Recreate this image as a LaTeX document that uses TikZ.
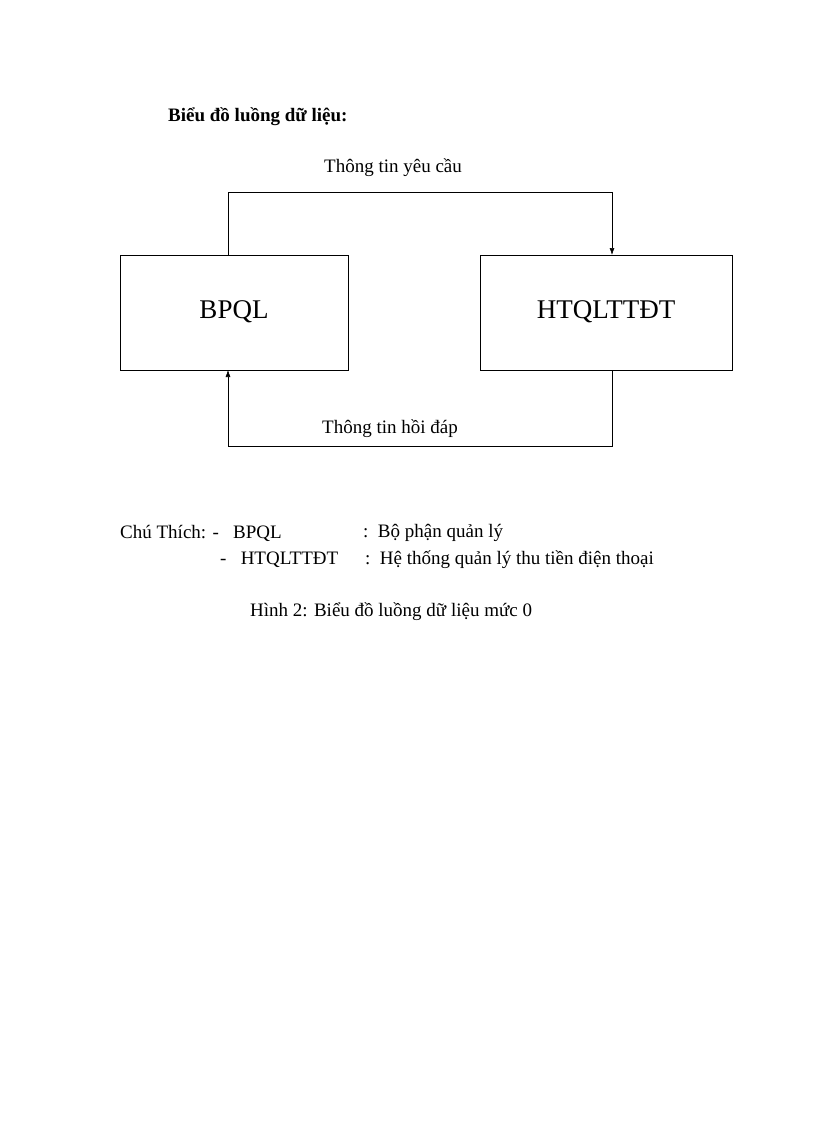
\documentclass[tikz,border=0pt]{standalone}
\usepackage{fontspec}
\setmainfont{Liberation Serif}
\usetikzlibrary{arrows.meta}
\begin{document}
\begin{tikzpicture}[x=1pt,y=-1pt,
  box/.style={draw,minimum width=0pt,inner sep=0pt},
  txt/.style={font=\fontsize{19}{22}\selectfont,inner sep=0pt},
  flow/.style={-{Latex[length=7pt,width=5pt]},line width=0.6pt}]
\useasboundingbox (0,0) rectangle (816,1123);
\draw[line width=0.6pt] (120,255) rectangle (348,370);
\draw[line width=0.6pt] (480,255) rectangle (732,370);
\node[font=\fontsize{27}{30}\selectfont] (a) at (234,312) {BPQL};
\node[font=\fontsize{27}{30}\selectfont] (b) at (606,312) {HTQLTTĐT};
\coordinate (a1) at (228,255); \coordinate (b1) at (612,255);
\coordinate (b2) at (612,370); \coordinate (a2) at (228,370);
\draw[flow] (a1) -- (228,192) -- (612,192) -- (b1);
\draw[flow] (b2) -- (612,446) -- (228,446) -- (a2);
\node[txt] (t1) at (393,168) {Thông tin yêu cầu};
\node[txt] (t2) at (390,429) {Thông tin hồi đáp};
\node[txt,anchor=west,font=\bfseries\fontsize{19}{22}\selectfont] (title) at (168,117) {Biểu đồ luồng dữ liệu:};
\node[txt,anchor=west] (l1) at (120,533) {Chú Thích: -\ \ \ BPQL};
\node[txt,anchor=west] (l1b) at (363,533) {:\ \ Bộ phận quản lý};
\node[txt,anchor=west] (l2) at (220,560) {-\ \ \ HTQLTTĐT};
\node[txt,anchor=west] (l2b) at (365,560) {:\ \ Hệ thống quản lý thu tiền điện thoại};
\node[txt,anchor=west] (cap) at (250,612) {Hình 2: Biểu đồ luồng dữ liệu mức 0};
\end{tikzpicture}
\end{document}
